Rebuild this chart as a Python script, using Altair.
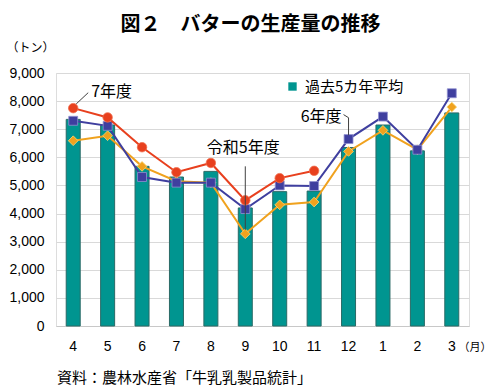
import altair as alt
import pandas as pd

months = ["4", "5", "6", "7", "8", "9", "10", "11", "12", "1", "2", "3"]
avg5 = [7350, 7150, 5680, 5300, 5500, 4200, 4780, 4800, 6350, 7150, 6230, 7580]
r7 = [7750, 7420, 6360, 5470, 5800, 4470, 5260, 5520]
r6 = [7300, 7120, 5300, 5100, 5100, 4160, 5000, 4980, 6650, 7450, 6270, 8280]
r5 = [6590, 6770, 5680, 5150, 5100, 3280, 4310, 4410, 6210, 6960, 6270, 7790]
y_ticks = [0, 1000, 2000, 3000, 4000, 5000, 6000, 7000, 8000, 9000]

JP = "Noto Sans CJK JP"
NUM = "Liberation Sans"

bars_df = pd.DataFrame({"m": months, "v": avg5, "lab": ["過去5カ年平均"] * 12})
df7 = pd.DataFrame({"m": months[:8], "v": r7})
df6 = pd.DataFrame({"m": months, "v": r6})
df5 = pd.DataFrame({"m": months, "v": r5})

xenc = alt.X("m:N", sort=months,
             scale=alt.Scale(paddingInner=0, paddingOuter=0),
             axis=alt.Axis(title="（月）", titleAngle=0, titleAlign="left", titleBaseline="middle",
                           titleX=402, titleY=21, titleFont=JP, titleFontSize=11,
                           titleFontWeight="normal", labelAngle=0, labelFont=NUM,
                           labelFontSize=14, labelColor="#000", labelPadding=13,
                           ticks=False, domain=True, domainColor="#c8c8c8", grid=False))
yaxis = alt.Axis(title="（トン）", titleAngle=0, titleAlign="left", titleBaseline="middle",
                 titleX=-50, titleY=-26, titleFont=JP, titleFontSize=12,
                 titleFontWeight="normal", values=y_ticks, format=",d",
                 labelFont=NUM, labelFontSize=14, labelColor="#000",
                 labelOverlap=False, labelBound=False,
                 labelPadding=12, ticks=False, domain=False,
                 grid=True, gridColor="#d9d9d9")
yenc = alt.Y("v:Q", scale=alt.Scale(domain=[0, 9000], nice=False), axis=yaxis)
xs = alt.X("m:N", sort=months)

bars = alt.Chart(bars_df).mark_bar(size=14, stroke="#2a6a66", strokeWidth=1).encode(
    x=xenc, y=yenc,
    color=alt.Color("lab:N", scale=alt.Scale(domain=["過去5カ年平均"], range=["#009590"]),
                    legend=alt.Legend(orient="none", legendX=229, legendY=6, title=None,
                                      symbolType="square", symbolSize=70, symbolStrokeWidth=0,
                                      labelFont=JP, labelFontSize=15, labelColor="#000",
                                      padding=0, labelOffset=5)))

def series(df, color, shape, size, stroke):
    line = alt.Chart(df).mark_line(color=color, strokeWidth=2).encode(x=xs, y=yenc)
    pts = alt.Chart(df).mark_point(shape=shape, size=size, filled=True, fill=color,
                                   stroke=stroke, strokeWidth=0.8, opacity=1).encode(x=xs, y=yenc)
    return line + pts

s5 = series(df5, "#F0A21E", "diamond", 95, "#f8d878")
s6 = series(df6, "#3F3F9F", "square", 80, "#9090d0")
s7 = series(df7, "#E8401E", "circle", 90, "#f07050")

ann_style = dict(font=JP, fontSize=16, color="#000", baseline="middle")

t7 = alt.Chart(pd.DataFrame({"m": ["4"], "v": [8330], "t": ["7年度"]})).mark_text(
    align="left", dx=18, **ann_style).encode(x=xs, y=yenc, text="t:N")
t5 = alt.Chart(pd.DataFrame({"m": ["9"], "v": [6340], "t": ["令和5年度"]})).mark_text(
    align="center", dx=-2, **ann_style).encode(x=xs, y=yenc, text="t:N")
t6 = alt.Chart(pd.DataFrame({"m": ["12"], "v": [7450], "t": ["6年度"]})).mark_text(
    align="right", dx=-7, **ann_style).encode(x=xs, y=yenc, text="t:N")

lead = dict(color="#404040", strokeWidth=1)
l7 = alt.Chart(pd.DataFrame({"m": ["4"], "m2": ["4"], "v": [7900], "v2": [8300]})).mark_rule(
    xOffset=3, x2Offset=15, **lead).encode(
    x=alt.X("m:N", sort=months, bandPosition=0.5), x2=alt.X2("m2", bandPosition=0.5),
    y=yenc, y2="v2")
l5 = alt.Chart(pd.DataFrame({"m": ["9"], "v": [5680], "v2": [3420]})).mark_rule(**lead).encode(
    x=xs, y=yenc, y2="v2")
l6a = alt.Chart(pd.DataFrame({"m": ["12"], "m2": ["12"], "v": [7520], "v2": [7410]})).mark_rule(
    xOffset=-5, x2Offset=0, **lead).encode(
    x=alt.X("m:N", sort=months, bandPosition=0.5), x2=alt.X2("m2", bandPosition=0.5),
    y=yenc, y2="v2")
l6b = alt.Chart(pd.DataFrame({"m": ["12"], "v": [7410], "v2": [6790]})).mark_rule(**lead).encode(
    x=xs, y=yenc, y2="v2")

src = alt.Chart(pd.DataFrame({"t": ["資料：農林水産省「牛乳乳製品統計」"]})).mark_text(
    align="left", baseline="middle", font=JP, fontSize=15, color="#000").encode(
    x=alt.value(1), y=alt.value(305), text="t:N")

chart = alt.layer(bars, s5, s6, s7, l7, l5, l6a, l6b, t7, t5, t6, src).properties(
    width=413, height=253,
    autosize=alt.AutoSizeParams(type="none"),
    padding={"left": 48, "top": 65, "right": 23, "bottom": 60},
    title=alt.Title("図２　バターの生産量の推移", font=JP, fontSize=20, fontWeight="bold",
                    color="#000", anchor="middle", frame="group", offset=6, dx=-12),
).configure_view(stroke="#c8c8c8", strokeWidth=1).configure_axisY(
    labelOverlap=False).configure(background="white")

chart.save("out.html", embed_options={"renderer": "svg", "actions": False})
